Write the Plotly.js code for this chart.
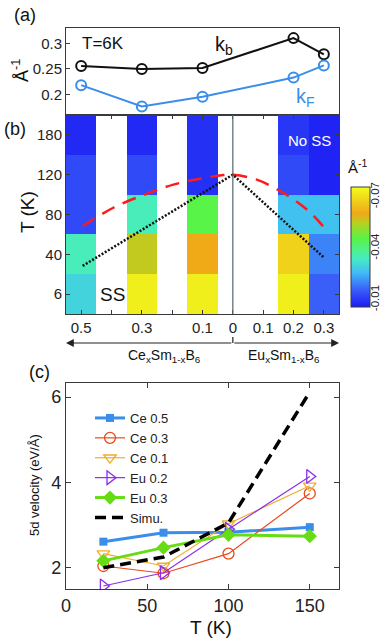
<!DOCTYPE html>
<html>
<head>
<meta charset="utf-8">
<script src="https://cdn.plot.ly/plotly-3.0.1.min.js"></script>
<style>
  html, body { margin: 0; padding: 0; background: #fff; }
  #chart { width: 381px; height: 641px; }
</style>
</head>
<body>
<div id="chart"></div>
<script>
// ===================== DATA =====================
// (a) Fermi / band-bottom momenta at T = 6 K, signed doping (Ce < 0, Eu > 0)
const samplePos = [-0.5, -0.3, -0.1, 0.2, 0.3];
const kb = [0.256, 0.250, 0.252, 0.311, 0.279];
const kF = [0.218, 0.176, 0.195, 0.233, 0.257];

// (b) heatmap columns (signed doping) and temperature rows
const dopingCells = [-0.5, -0.4, -0.3, -0.2, -0.1, 0, 0.1, 0.2, 0.3];
const dopingTickVals = [-0.5, -0.3, -0.1, 0, 0.1, 0.2, 0.3];
const dopingTicks = ['0.5', '0.3', '0.1', '0', '0.1', '0.2', '0.3'];
const tempRows = ['6', '40', '80', '120', '180'];
// shift (Å^-1) per sample, rows bottom -> top (6, 40, 80, 120, 180 K)
const shiftCe05 = [-0.029, -0.034, -0.012, -0.012, -0.007];
const shiftCe03 = [-0.072, -0.055, -0.034, -0.012, -0.007];
const shiftCe01 = [-0.072, -0.060, -0.045, -0.008, -0.008];
const shiftEu02 = [-0.072, -0.067, -0.026, -0.012, -0.009];
const shiftEu03 = [-0.015, -0.019, -0.026, -0.006, -0.006];
const cbarTicks = [0.01, 0.04, 0.07];

// red dashed crossover curve and dotted guide (row-index units on y)
const curveX = [-0.495, -0.394, -0.284, -0.196, -0.108, -0.031, 0.0, 0.079, 0.167, 0.244, 0.297];
const curveY = [1.71, 2.17, 2.52, 2.75, 2.90, 2.99, 3.0, 2.875, 2.54, 2.125, 1.71];
const guideX = [-0.495, 0, 0.30];
const guideY = [0.71, 3.0, 0.92];

// (c) 5d velocity vs temperature
const tempC = [23, 60, 100, 150];
const vCe05 = [2.61, 2.82, 2.83, 2.95];
const vCe03 = [2.04, 1.87, 2.33, 3.74];
const vCe01 = [2.33, 2.04, 3.03, 3.92];
const vEu02 = [1.57, 1.88, 2.90, 4.14];
const vEu03 = [2.16, 2.47, 2.77, 2.74];
const vSimu = [2.00, 2.25, 3.05, 6.12];

// ===================== STYLE =====================
const FONT = 'Liberation Sans, Arial, sans-serif';
const AXC = '#3a3a3a';
const KF_BLUE = '#3a8eea';
const XDOM = [0.1732, 0.8898];
const ZMIN = 0.005, ZMAX = 0.075;
const CB_BOTTOM = 306.7, CB_LEN = 120;   // colorbar placement (px)

// build heatmap grid (null = white gap column)
const columns = { '-0.5': shiftCe05, '-0.3': shiftCe03, '-0.1': shiftCe01, '0.2': shiftEu02, '0.3': shiftEu03 };
const z = tempRows.map((_, r) => dopingCells.map(d => {
    const col = columns[String(d)];
    return col ? -col[r] : null;      // colour by magnitude, colorbar labelled negative
}));

// ===================== TRACES =====================
const traces = [
    // ---- (a) ----
    { x: samplePos, y: kb, xaxis: 'x', yaxis: 'y', type: 'scatter', mode: 'lines+markers',
      line: { color: '#111', width: 2 },
      marker: { symbol: 'circle-open', size: 10, color: '#111', line: { width: 2 } },
      showlegend: false, hoverinfo: 'skip' },
    { x: samplePos, y: kF, xaxis: 'x', yaxis: 'y', type: 'scatter', mode: 'lines+markers',
      line: { color: KF_BLUE, width: 2 },
      marker: { symbol: 'circle-open', size: 10, color: KF_BLUE, line: { width: 2 } },
      showlegend: false, hoverinfo: 'skip' },

    // ---- (b) ----
    { type: 'heatmap', x: dopingCells, y: [0, 1, 2, 3, 4], z: z, xaxis: 'x2', yaxis: 'y2',
      zmin: ZMIN, zmax: ZMAX, hoverinfo: 'skip', showscale: true,
      colorscale: [[0, '#1c1cf4'], [0.14, '#3a5cf8'], [0.28, '#40b8f8'], [0.4, '#46ecc4'],
                   [0.57, '#58f448'], [0.7, '#b8d020'], [0.78, '#f0a818'], [1, '#f0ff1c']],
      colorbar: {
          x: 351 / 381, xanchor: 'left', y: 1 - CB_BOTTOM / 641, yanchor: 'bottom',
          len: CB_LEN / 641, lenmode: 'fraction', thickness: 19, thicknessmode: 'pixels',
          outlinecolor: AXC, outlinewidth: 1, ticks: '', showticklabels: false,
          title: { text: '' }, xpad: 0, ypad: 0
      } },
    { x: curveX, y: curveY, xaxis: 'x2', yaxis: 'y2', type: 'scatter', mode: 'lines',
      line: { color: '#ff1a1a', width: 2.5, dash: '14px,9px', shape: 'spline', smoothing: 1 },
      showlegend: false, hoverinfo: 'skip' },
    { x: guideX, y: guideY, xaxis: 'x2', yaxis: 'y2', type: 'scatter', mode: 'lines',
      line: { color: '#111', width: 2.5, dash: '2px,1.7px' },
      showlegend: false, hoverinfo: 'skip' },

    // ---- (c) ----
    { x: tempC, y: vCe05, name: 'Ce 0.5', xaxis: 'x3', yaxis: 'y3', mode: 'lines+markers',
      line: { color: '#3a8eea', width: 3 }, marker: { symbol: 'square', size: 8, color: '#3a8eea' } },
    { x: tempC, y: vCe03, name: 'Ce 0.3', xaxis: 'x3', yaxis: 'y3', mode: 'lines+markers',
      line: { color: '#ea4a1c', width: 1.2 },
      marker: { symbol: 'circle-open', size: 11, color: '#ea4a1c', line: { width: 1.3 } } },
    { x: tempC, y: vCe01, name: 'Ce 0.1', xaxis: 'x3', yaxis: 'y3', mode: 'lines+markers',
      line: { color: '#f0ac2c', width: 1.2 },
      marker: { symbol: 'triangle-down-open', size: 11, color: '#f0ac2c', line: { width: 1.3 } } },
    { x: tempC, y: vEu02, name: 'Eu 0.2', xaxis: 'x3', yaxis: 'y3', mode: 'lines+markers',
      line: { color: '#8a2eee', width: 1.2 },
      marker: { symbol: 'triangle-right-open', size: 12, color: '#8a2eee', line: { width: 1.3 } } },
    { x: tempC, y: vEu03, name: 'Eu 0.3', xaxis: 'x3', yaxis: 'y3', mode: 'lines+markers',
      line: { color: '#66dc14', width: 3 }, marker: { symbol: 'diamond', size: 11, color: '#66dc14' } },
    { x: tempC, y: vSimu, name: 'Simu.', xaxis: 'x3', yaxis: 'y3', mode: 'lines',
      line: { color: '#000', width: 3.5, dash: '11px,6px' } }
];

// ===================== LAYOUT =====================
function frameAxis(extra) {
    return Object.assign({
        showline: true, linecolor: AXC, linewidth: 1, mirror: 'ticks',
        ticks: 'inside', ticklen: 4, tickcolor: AXC, showgrid: false, zeroline: false,
        tickfont: { family: FONT, size: 15, color: '#222' }, fixedrange: true
    }, extra);
}

// text label placed by pixel centre
function label(text, px, py, size, extra) {
    return Object.assign({
        text: text, xref: 'paper', yref: 'paper', x: px / 381, y: 1 - py / 641,
        xanchor: 'center', yanchor: 'middle',
        showarrow: false, font: { family: FONT, size: size, color: '#111' }
    }, extra);
}

const annotations = [
    label('(a)', 25, 15, 18),
    label('(b)', 15, 129, 18),
    label('(c)', 39, 372, 18),
    label('Å<sup>-1</sup>', 21, 71, 18, { textangle: -90 }),
    label('T (K)', 27, 212, 19, { textangle: -90 }),
    label('5d velocity (eV/Å)', 34, 485, 13, { textangle: -90 }),
    label('T (K)', 211, 627, 19),
    label('Ce<sub>x</sub>Sm<sub>1-x</sub>B<sub>6</sub>', 164, 356, 14),
    label('Eu<sub>x</sub>Sm<sub>1-x</sub>B<sub>6</sub>', 284, 356, 14),
    label('Å<sup>-1</sup>', 358, 166, 15),                // colorbar unit
    // in-panel texts
    { text: 'T=6K', xref: 'x', yref: 'y', x: -0.428, y: 0.300, showarrow: false,
      xanchor: 'center', yanchor: 'middle', font: { family: FONT, size: 17, color: '#111' } },
    { text: 'k<sub>b</sub>', xref: 'x', yref: 'y', x: -0.03, y: 0.296, showarrow: false,
      xanchor: 'center', yanchor: 'middle', font: { family: FONT, size: 20, color: '#111' } },
    { text: 'k<sub>F</sub>', xref: 'x', yref: 'y', x: 0.24, y: 0.194, showarrow: false,
      xanchor: 'center', yanchor: 'middle', font: { family: FONT, size: 20, color: KF_BLUE } },
    { text: 'No SS', xref: 'x2', yref: 'y2', x: 0.252, y: 3.87, showarrow: false,
      xanchor: 'center', yanchor: 'middle', font: { family: FONT, size: 15, color: '#fff' } },
    { text: 'SS', xref: 'x2', yref: 'y2', x: -0.398, y: 0.0, showarrow: false,
      xanchor: 'center', yanchor: 'middle', font: { family: FONT, size: 19, color: '#111' } },
    // doping arrows under (b)
    { text: '', xref: 'x2', yref: 'paper', x: -0.55, y: 1 - 343 / 641, axref: 'x2', ax: 0,
      ayref: 'pixel', ay: 0, showarrow: true, arrowhead: 2, arrowsize: 1.3, arrowwidth: 1.2,
      arrowcolor: '#222', standoff: 0 },
    { text: '', xref: 'x2', yref: 'paper', x: 0.35, y: 1 - 343 / 641, axref: 'x2', ax: 0,
      ayref: 'pixel', ay: 0, showarrow: true, arrowhead: 2, arrowsize: 1.3, arrowwidth: 1.2,
      arrowcolor: '#222', standoff: 0 }
];

// colorbar tick labels (rotated, kept inside the page)
cbarTicks.forEach(v => {
    const py = CB_BOTTOM - (v - ZMIN) / (ZMAX - ZMIN) * CB_LEN;
    annotations.push(label('-' + v.toFixed(2), 375, py, 11.5,
        { textangle: -90, font: { family: FONT, size: 11.5, color: '#222' } }));
});

const shapes = [
    { type: 'line', xref: 'x2', yref: 'y2', x0: 0, x1: 0, y0: -0.5, y1: 4.5,
      line: { color: '#56646e', width: 1.2 }, layer: 'above' },
    { type: 'line', xref: 'x2', yref: 'paper', x0: 0, x1: 0, y0: 1 - 343 / 641, y1: 1 - 337 / 641,
      line: { color: '#222', width: 1.2 } }
];

const layout = {
    width: 381, height: 641,
    margin: { l: 0, r: 0, t: 0, b: 0, autoexpand: false },
    paper_bgcolor: '#fff', plot_bgcolor: '#fff',
    font: { family: FONT, color: '#222' },
    showlegend: true,
    legend: {
        x: 90 / 381, y: 1 - 403 / 641, xanchor: 'left', yanchor: 'top',
        bgcolor: 'rgba(0,0,0,0)', borderwidth: 0, tracegroupgap: 0,
        font: { family: FONT, size: 13, color: '#222' }
    },

    xaxis: frameAxis({ domain: XDOM, anchor: 'y', range: [-0.55, 0.35], showticklabels: false, ticks: '' }),
    yaxis: frameAxis({ domain: [0.8206, 0.9563], anchor: 'x', range: [0.159, 0.331],
                       tickvals: [0.2, 0.25, 0.3], ticktext: ['0.2', '0.25', '0.3'], mirror: true }),

    xaxis2: frameAxis({ domain: XDOM, anchor: 'y2', range: [-0.55, 0.35],
                        tickvals: dopingTickVals, ticktext: dopingTicks,
                        minor: { tickvals: [-0.4, -0.2], ticks: 'inside', ticklen: 4, tickcolor: AXC } }),
    yaxis2: frameAxis({ domain: [0.5101, 0.8206], anchor: 'x2', range: [-0.5, 4.5],
                        tickvals: [0, 1, 2, 3, 4], ticktext: tempRows }),

    xaxis3: frameAxis({ domain: XDOM, anchor: 'y3', range: [0, 168], tickvals: [0, 50, 100, 150],
                        ticklen: 5, tickfont: { family: FONT, size: 18, color: '#222' } }),
    yaxis3: frameAxis({ domain: [0.0811, 0.4025], anchor: 'x3', range: [1.5, 6.33], tickvals: [2, 4, 6],
                        ticklen: 5, tickfont: { family: FONT, size: 18, color: '#222' } }),

    annotations: annotations,
    shapes: shapes
};

Plotly.newPlot('chart', traces, layout, { displayModeBar: false, staticPlot: true });
</script>
</body>
</html>
